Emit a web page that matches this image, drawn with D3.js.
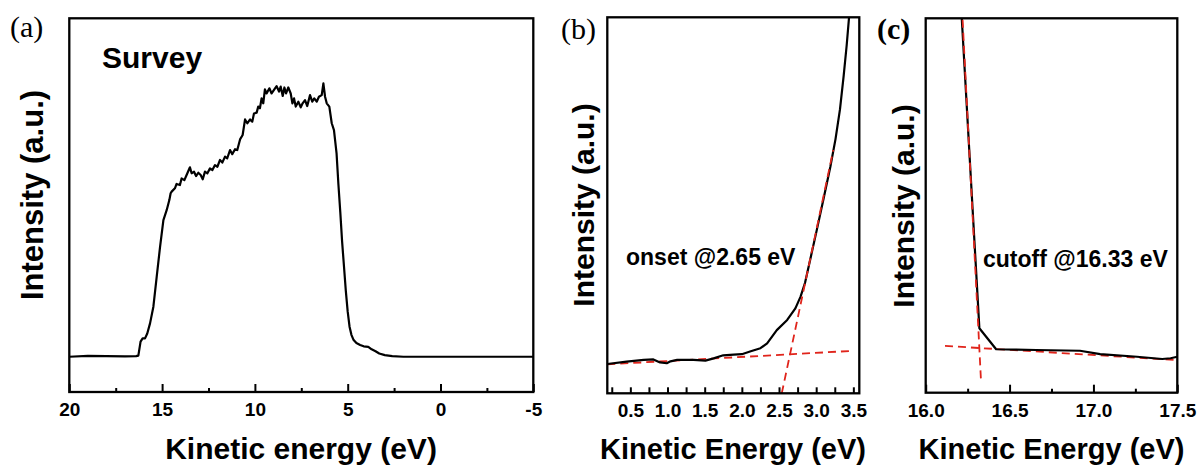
<!DOCTYPE html>
<html>
<head>
<meta charset="utf-8">
<script src="https://cdn.jsdelivr.net/npm/d3@7"></script>
<style>
  html, body { margin: 0; padding: 0; background: #fff; }
  svg { display: block; }
</style>
</head>
<body>
<svg id="chart" width="1199" height="466"></svg>
<script>
// ---------------- DATA ----------------
// (a) Survey spectrum: kinetic energy (eV) and intensity (a.u.)
const surveyEnergy = [20.0, 19.0, 18.0, 17.0, 16.40, 16.28, 16.16, 16.05, 15.92, 15.80, 15.65, 15.47, 15.29, 15.11, 14.93, 14.75, 14.61, 14.54,
  14.485, 14.31, 14.22, 14.04, 13.95, 13.80, 13.68, 13.50, 13.41, 13.28, 13.17, 13.05, 12.92, 12.81, 12.69, 12.56, 12.42, 12.29, 12.15, 12.02,
  11.88, 11.755, 11.61, 11.49, 11.34, 11.22, 11.07, 10.95, 10.80, 10.66, 10.53, 10.41, 10.26, 10.14, 10.05, 9.905, 9.82, 9.73, 9.64, 9.55,
  9.46, 9.37, 9.22, 9.10, 8.97, 8.83, 8.70, 8.61, 8.50, 8.41, 8.32, 8.20, 8.07, 7.98, 7.89, 7.80, 7.66, 7.53, 7.43, 7.30, 7.18, 7.03, 6.91,
  6.80, 6.67, 6.55, 6.40, 6.31, 6.22, 6.13, 5.99, 5.86, 5.74, 5.60, 5.50, 5.40, 5.30, 5.20, 5.10, 5.00, 4.90, 4.80, 4.68, 4.53, 4.33, 4.14,
  3.89, 3.71, 3.50, 3.30, 3.00, 2.60, 2.00, -5.0];
const surveyIntensity = [0, 0.3, 0.2, 0.1, 0.2, 0.4, 5.5, 6.7, 6.7, 8.5, 12.2, 18.3, 29.3, 40.2, 50.0, 53.7, 57.3, 59.8,
  60.4, 61.6, 63.2, 62.8, 65.2, 64.6, 66.5, 69.3, 67.1, 67.7, 66.1, 67.3, 66.5, 64.9, 67.7, 67.1, 68.9, 68.3, 70.1, 69.5,
  72.0, 71.0, 73.2, 72.6, 75.6, 74.1, 75.9, 75.6, 79.5, 81.1, 86.8, 85.4, 86.8, 86.0, 89.0, 89.3, 91.5, 90.9, 94.5, 92.7,
  97.8, 96.3, 98.2, 96.3, 97.6, 99.0, 97.0, 98.8, 95.4, 98.5, 96.3, 98.5, 96.3, 92.7, 94.5, 91.5, 93.3, 91.2, 92.7, 93.9, 91.7, 95.7, 93.3,
  94.5, 93.3, 95.1, 95.7, 100, 95.1, 92.7, 91.5, 85.4, 82.9, 74.4, 63.0, 53.0, 42.0, 33.0, 24.0, 16.5, 11.0, 8.0, 6.1, 5.0, 4.3, 3.8,
  3.6, 2.7, 2.0, 1.2, 0.6, 0.2, 0, 0];
const surveyTicks = [20, 15, 10, 5, 0, -5];
const surveyMinorTicks = [17.5, 12.5, 7.5, 2.5, -2.5];

// (b) Onset region
const onsetEnergy = [0.19, 0.45, 0.68, 0.81, 0.90, 0.99, 1.04, 1.13, 1.35, 1.51, 1.62, 1.75, 1.89, 2.00, 2.11, 2.25, 2.34, 2.47, 2.61, 2.72,
  2.79, 2.85, 2.92, 3.01, 3.10, 3.19, 3.26, 3.32, 3.37, 3.41, 3.44, 3.46];
const onsetIntensity = [7.8, 8.4, 8.9, 9.0, 8.2, 8.0, 8.5, 8.9, 8.9, 8.7, 9.3, 10.1, 10.3, 10.4, 11.1, 12.0, 13.3, 16.8, 19.5, 22.6,
  25.7, 29.4, 35.6, 43.6, 51.8, 60.2, 67.6, 75.5, 84.5, 92.5, 99.5, 104];
const onsetFitBase = [[0.19, 7.7], [3.50, 11.3]];
const onsetFitEdge = [[2.537, 0], [3.23, 64.7]];
const onsetTicks = [0.25, 0.5, 0.75, 1.0, 1.25, 1.5, 1.75, 2.0, 2.25, 2.5, 2.75, 3.0, 3.25, 3.5];
const onsetLabels = [0.5, 1.0, 1.5, 2.0, 2.5, 3.0, 3.5];

// (c) Cutoff region
const cutoffEnergy = [16.212, 16.215, 16.32, 16.42, 16.66, 16.92, 17.04, 17.26, 17.41, 17.46, 17.50];
const cutoffIntensity = [101, 100, 17.2, 11.6, 11.4, 11.2, 10.3, 9.6, 9.0, 9.2, 9.6];
const cutoffFitEdge = [[16.22, 99.6], [16.33, 2.9]];
const cutoffFitBase = [[16.115, 12.5], [17.5, 8.7]];
const cutoffTicks = [16.0, 16.5, 17.0, 17.5];
const cutoffMinorTicks = [16.25, 16.75, 17.25];

// ---------------- DRAW ----------------
const SANS = "'Liberation Sans', Arial, sans-serif";
const SERIF = "'Liberation Serif', 'Times New Roman', serif";
const svg = d3.select("#chart");
svg.append("rect").attr("width", 1199).attr("height", 466).attr("fill", "#fff");
const RED = "#e0241b";

function panel(id, x, y) {
  const g = svg.append("g");
  const [x0, x1] = x.range(), [y0, y1] = y.range();
  g.append("clipPath").attr("id", id).append("rect")
    .attr("x", x0).attr("y", y1).attr("width", x1 - x0).attr("height", y0 - y1);
  return g;
}

function frame(g, x, y) {
  const [x0, x1] = x.range(), [y0, y1] = y.range();
  g.append("rect").attr("x", x0).attr("y", y1).attr("width", x1 - x0).attr("height", y0 - y1)
    .attr("fill", "none").attr("stroke", "#000").attr("stroke-width", 2.3);
}

function boldText(sel, size) {
  return sel.style("font-family", SANS).style("font-weight", "bold").style("font-size", size + "px").style("fill", "#000");
}

function axis(g, x, y, major, labels, majorLen, minor, minorLen, fmt) {
  const y0 = y.range()[0];
  const ax = g.append("g").attr("transform", `translate(0,${y0})`)
    .call(d3.axisBottom(x).tickValues(major).tickSizeInner(-majorLen).tickSizeOuter(0).tickPadding(10.5)
      .tickFormat(d => labels.some(l => Math.abs(l - d) < 1e-9) ? fmt(d) : ""));
  ax.select(".domain").remove();
  ax.selectAll(".tick line").attr("stroke", "#000").attr("stroke-width", 2);
  boldText(ax.selectAll(".tick text"), 19);
  if (minor) {
    const am = g.append("g").attr("transform", `translate(0,${y0})`)
      .call(d3.axisBottom(x).tickValues(minor).tickSizeInner(-minorLen).tickSizeOuter(0).tickFormat(""));
    am.select(".domain").remove();
    am.selectAll(".tick line").attr("stroke", "#000").attr("stroke-width", 2);
  }
}

function curve(g, id, x, y, xs, ys) {
  const pts = xs.map((e, i) => [e, ys[i]]);
  g.append("path").attr("clip-path", `url(#${id})`)
    .attr("d", d3.line().x(d => x(d[0])).y(d => y(d[1]))(pts))
    .attr("fill", "none").attr("stroke", "#000").attr("stroke-width", 2.2).attr("stroke-linejoin", "round");
}

function dashed(g, id, x, y, pts) {
  g.append("path").attr("clip-path", `url(#${id})`)
    .attr("d", d3.line().x(d => x(d[0])).y(d => y(d[1]))(pts))
    .attr("fill", "none").attr("stroke", RED).attr("stroke-width", 1.8).attr("stroke-dasharray", "8,5");
}

function ytitle(g, cx, cy, size) {
  boldText(g.append("text").attr("transform", `translate(${cx},${cy}) rotate(-90)`)
    .attr("text-anchor", "middle"), size).text("Intensity (a.u.)");
}

function xtitle(g, cx, cy, size, txt) {
  boldText(g.append("text").attr("x", cx).attr("y", cy).attr("text-anchor", "middle"), size).text(txt);
}

function plabel(g, px, py, txt, weight) {
  g.append("text").attr("x", px).attr("y", py)
    .style("font-family", SERIF).style("font-weight", weight).style("font-size", "30px").style("fill", "#000").text(txt);
}

// Panel (a)
const xA = d3.scaleLinear().domain([20, -5]).range([69.3, 533.3]);
const yA = d3.scaleLinear().domain([-12.9, 123.8]).range([392, 18.3]);
const gA = panel("clipA", xA, yA);
curve(gA, "clipA", xA, yA, surveyEnergy, surveyIntensity);
frame(gA, xA, yA);
axis(gA, xA, yA, surveyTicks, surveyTicks, 8, surveyMinorTicks, 4, d => String(d));
ytitle(gA, 43, 195, 31);
xtitle(gA, 301, 459, 30, "Kinetic energy (eV)");
plabel(gA, 10, 37, "(a)", "normal");
boldText(gA.append("text").attr("x", 102).attr("y", 68), 30).text("Survey");

// Panel (b)
const xB = d3.scaleLinear().domain([0.19, 3.58]).range([607.3, 859.3]);
const yB = d3.scaleLinear().domain([0, 100]).range([393.3, 17.3]);
const gB = panel("clipB", xB, yB);
dashed(gB, "clipB", xB, yB, onsetFitBase);
curve(gB, "clipB", xB, yB, onsetEnergy, onsetIntensity);
dashed(gB, "clipB", xB, yB, onsetFitEdge);
frame(gB, xB, yB);
axis(gB, xB, yB, onsetTicks, onsetLabels, 6, null, 0, d3.format(".1f"));
ytitle(gB, 594, 205, 30);
xtitle(gB, 733, 459, 29, "Kinetic Energy (eV)");
plabel(gB, 561, 39, "(b)", "normal");
boldText(gB.append("text").attr("x", 626).attr("y", 265), 23).text("onset @2.65 eV");

// Panel (c)
const xC = d3.scaleLinear().domain([16.0, 17.5]).range([925.7, 1177.3]);
const yC = d3.scaleLinear().domain([0, 100]).range([392.7, 18.3]);
const gC = panel("clipC", xC, yC);
dashed(gC, "clipC", xC, yC, cutoffFitBase);
curve(gC, "clipC", xC, yC, cutoffEnergy, cutoffIntensity);
dashed(gC, "clipC", xC, yC, cutoffFitEdge);
frame(gC, xC, yC);
axis(gC, xC, yC, cutoffTicks, cutoffTicks, 8, cutoffMinorTicks, 4, d3.format(".1f"));
ytitle(gC, 914, 206, 30);
xtitle(gC, 1051.5, 459, 29, "Kinetic Energy (eV)");
plabel(gC, 877, 39, "(c)", "bold");
boldText(gC.append("text").attr("x", 983).attr("y", 267), 23).text("cutoff @16.33 eV");
</script>
</body>
</html>
